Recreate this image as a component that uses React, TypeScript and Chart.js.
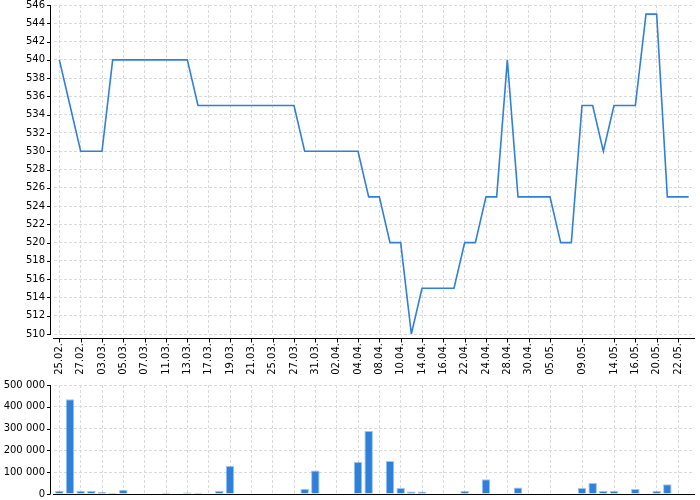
import React, { useEffect, useRef } from 'react';
import { Chart, registerables } from 'chart.js';

Chart.register(...registerables);

// Trading dates (one entry per data point)
const dates = [
  '25.02', '26.02', '27.02', '28.02', '03.03', '04.03', '05.03', '06.03', '07.03', '10.03',
  '11.03', '12.03', '13.03', '14.03', '17.03', '18.03', '19.03', '20.03', '21.03', '24.03',
  '25.03', '26.03', '27.03', '28.03', '31.03', '01.04', '02.04', '03.04', '04.04', '07.04',
  '08.04', '09.04', '10.04', '11.04', '14.04', '15.04', '16.04', '18.04', '22.04', '23.04',
  '24.04', '25.04', '28.04', '29.04', '30.04', '02.05', '05.05', '06.05', '07.05', '09.05',
  '12.05', '13.05', '14.05', '15.05', '16.05', '19.05', '20.05', '21.05', '22.05', '23.05',
];

// Dates that carry a tick label (and a vertical grid line)
const labeledDates = [
  '25.02', '27.02', '03.03', '05.03', '07.03', '11.03', '13.03', '17.03', '19.03', '21.03',
  '25.03', '27.03', '31.03', '02.04', '04.04', '08.04', '10.04', '14.04', '16.04', '22.04',
  '24.04', '28.04', '30.04', '05.05', '09.05', '14.05', '16.05', '20.05', '22.05',
];

// Price series
const prices = [
  540, 535, 530, 530, 530, 540, 540, 540, 540, 540,
  540, 540, 540, 535, 535, 535, 535, 535, 535, 535,
  535, 535, 535, 530, 530, 530, 530, 530, 530, 525,
  525, 520, 520, 510, 515, 515, 515, 515, 520, 520,
  525, 525, 540, 525, 525, 525, 525, 520, 520, 535,
  535, 530, 535, 535, 535, 545, 545, 525, 525, 525,
];

// Volume series
const volumes = [
  15000, 435000, 15000, 15000, 9000, 6000, 20000, 0, 0, 0,
  6000, 2000, 7000, 6000, 0, 15000, 128000, 0, 0, 0,
  0, 0, 0, 24000, 108000, 0, 0, 0, 147000, 289000,
  0, 151000, 27000, 11000, 11000, 0, 0, 0, 14000, 3000,
  68000, 0, 1000, 30000, 0, 0, 0, 3000, 0, 28000,
  50000, 15000, 15000, 0, 23000, 3000, 14000, 45000, 0, 0,
];

// Axis ranges: [min, max, step]
const priceAxis = [510, 546, 2];
const volumeAxis = [0, 500000, 100000];

const BLUE = '#2f80d8';
const GRID = '#dadada';
const labeledSet = new Set(labeledDates);

const fmtThousands = (v: number) => String(v).replace(/\B(?=(\d{3})+(?!\d))/g, ' ');

const resetPadding = (s: any) => {
  s.paddingTop = 0;
  s.paddingBottom = 0;
  s.paddingLeft = 0;
  s.paddingRight = 0;
};

const axesPlugin = {
  id: 'axesLines',
  afterDraw(chart: any, _args: any, opts: any) {
    const { ctx, chartArea: ca } = chart;
    const xs = chart.scales.x;
    const ys = chart.scales.y;
    ctx.save();
    ctx.strokeStyle = '#000';
    ctx.lineWidth = 1;
    ctx.beginPath();
    const yx = Math.round(ca.left) - 3.5;
    ctx.moveTo(yx, ca.top);
    ctx.lineTo(yx, ca.bottom + opts.yExtend);
    ys.ticks.forEach((t: any) => {
      const py = Math.round(ys.getPixelForValue(t.value)) + 0.5;
      ctx.moveTo(yx - 3.5, py);
      ctx.lineTo(yx, py);
    });
    const xy = Math.round(ca.bottom) + opts.xGap + 0.5;
    ctx.moveTo(ca.left - 1, xy);
    ctx.lineTo(ca.right + 1, xy);
    if (opts.xTicks) {
      dates.forEach((d, i) => {
        if (!labeledSet.has(d)) return;
        const px = Math.round(xs.getPixelForValue(i)) + 0.5;
        ctx.moveTo(px, xy);
        ctx.lineTo(px, xy + 4);
      });
    }
    ctx.stroke();
    ctx.restore();
  },
};

const gridColor = (ctx: any) => {
  const d = dates[ctx.index];
  return ctx.tick && labeledSet.has(d) ? GRID : 'rgba(0,0,0,0)';
};

export default function App() {
  const topRef = useRef<HTMLCanvasElement>(null);
  const botRef = useRef<HTMLCanvasElement>(null);

  useEffect(() => {
    document.body.style.margin = '0';
    Chart.defaults.font.family = '"DejaVu Sans", Verdana, sans-serif';
    Chart.defaults.font.size = 10;
    Chart.defaults.color = '#000';

    const top = new Chart(topRef.current as HTMLCanvasElement, {
      type: 'line',
      data: {
        labels: dates,
        datasets: [
          {
            data: prices,
            borderColor: BLUE,
            borderWidth: 1.6,
            pointRadius: 0,
            tension: 0,
            fill: false,
          },
        ],
      },
      plugins: [axesPlugin],
      options: {
        responsive: false,
        animation: false,
        events: [],
        layout: { autoPadding: false, padding: { top: 5, right: 6, bottom: 0, left: 0 } },
        plugins: {
          legend: { display: false },
          tooltip: { enabled: false },
          axesLines: { xGap: 4, yExtend: 1, xTicks: true },
        } as any,
        scales: {
          x: {
            type: 'category',
            offset: true,
            afterFit: (s: any) => { s.height = 44; resetPadding(s); },
            grid: { offset: false, drawTicks: false, color: gridColor, lineWidth: 1 },
            border: { display: false, dash: [3, 2] },
            ticks: {
              autoSkip: false,
              maxRotation: 90,
              minRotation: 90,
              padding: 9,
              callback: (_v: any, i: number) => (labeledSet.has(dates[i]) ? dates[i] + '.' : ''),
            },
          },
          y: {
            min: priceAxis[0],
            max: priceAxis[1],
            afterFit: (s: any) => { s.width = 54; resetPadding(s); },
            grid: { drawTicks: false, color: GRID, lineWidth: 1 },
            border: { display: false, dash: [3, 2] },
            ticks: { stepSize: priceAxis[2], maxTicksLimit: 60, autoSkip: false, padding: 9 },
          },
        },
      } as any,
    });

    const bot = new Chart(botRef.current as HTMLCanvasElement, {
      type: 'bar',
      data: {
        labels: dates,
        datasets: [
          {
            data: volumes,
            backgroundColor: BLUE,
            borderColor: 'rgba(47,128,216,0.45)',
            borderWidth: 1,
            borderSkipped: 'start',
            barPercentage: 0.8,
            categoryPercentage: 1,
          },
        ],
      },
      plugins: [axesPlugin],
      options: {
        responsive: false,
        animation: false,
        events: [],
        layout: { autoPadding: false, padding: { top: 7, right: 6, bottom: 6, left: 0 } },
        plugins: {
          legend: { display: false },
          tooltip: { enabled: false },
          axesLines: { xGap: 0, yExtend: 0, xTicks: false },
        } as any,
        scales: {
          x: {
            type: 'category',
            offset: true,
            afterFit: (s: any) => { s.height = 0; resetPadding(s); },
            grid: { offset: false, drawTicks: false, color: gridColor, lineWidth: 1 },
            border: { display: false, dash: [3, 2] },
            ticks: {
              display: false,
              autoSkip: false,
              callback: (_v: any, i: number) => (labeledSet.has(dates[i]) ? dates[i] : ''),
            },
          },
          y: {
            min: volumeAxis[0],
            max: volumeAxis[1],
            afterFit: (s: any) => { s.width = 54; resetPadding(s); },
            grid: { drawTicks: false, color: GRID, lineWidth: 1 },
            border: { display: false, dash: [3, 2] },
            ticks: {
              stepSize: volumeAxis[2],
              maxTicksLimit: 20,
              autoSkip: false,
              padding: 9,
              callback: (v: any) => fmtThousands(Number(v)),
            },
          },
        },
      } as any,
    });

    return () => {
      top.destroy();
      bot.destroy();
    };
  }, []);

  return (
    <div style={{ position: 'relative', width: 700, height: 500 }}>
      <canvas
        ref={topRef}
        width={700}
        height={378}
        style={{ position: 'absolute', left: 0, top: 0 }}
      />
      <canvas
        ref={botRef}
        width={700}
        height={122}
        style={{ position: 'absolute', left: 0, top: 378 }}
      />
    </div>
  );
}
